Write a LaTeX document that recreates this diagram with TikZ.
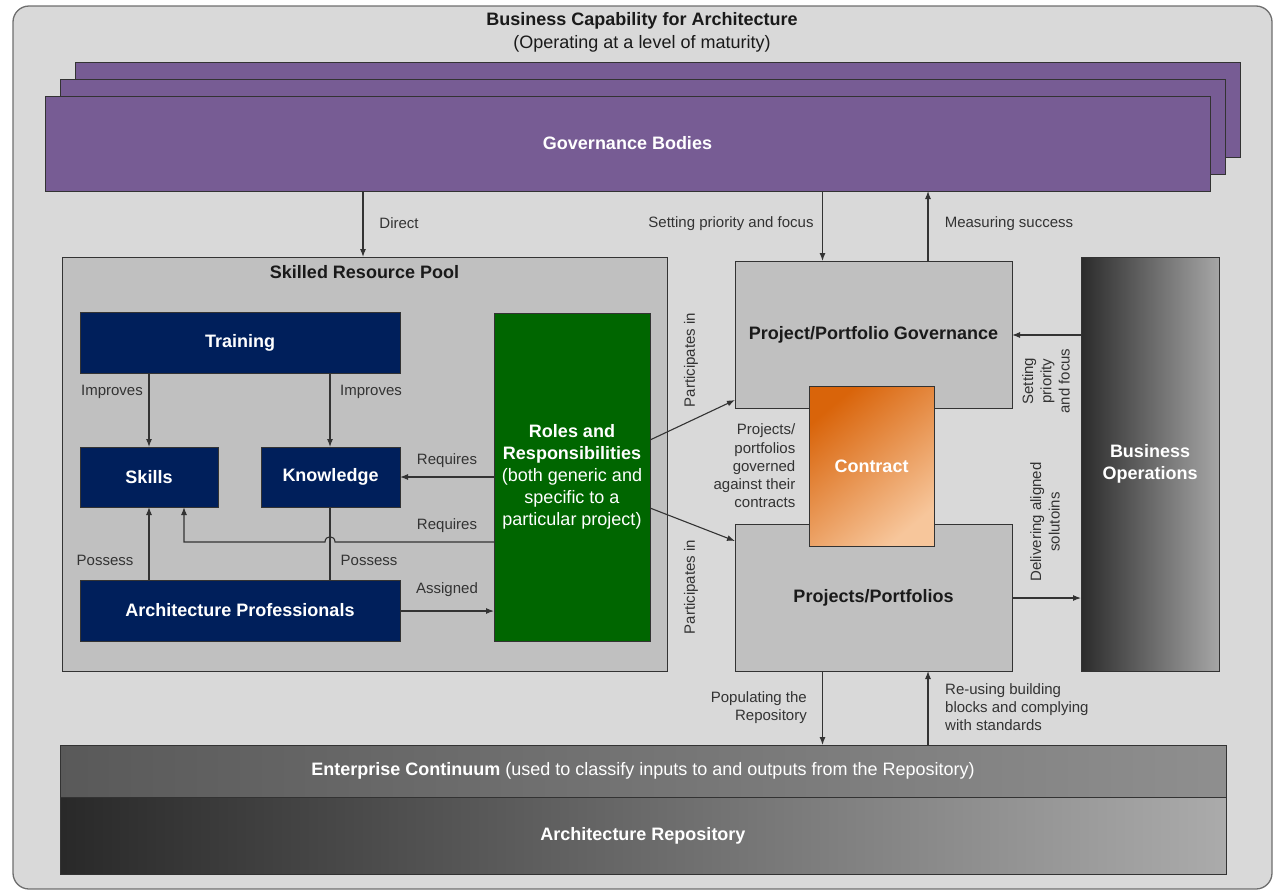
\documentclass[tikz,border=0pt]{standalone}
\usepackage{fontspec}
\setmainfont{Liberation Sans}
\usetikzlibrary{arrows.meta,calc}
\definecolor{outerbg}{HTML}{D9D9D9}
\definecolor{outerln}{HTML}{6E6E6E}
\definecolor{poolc}{HTML}{C0C0C0}
\definecolor{linec}{HTML}{333333}
\definecolor{labc}{HTML}{333333}
\definecolor{headc}{HTML}{1A1A1A}
\definecolor{purplec}{HTML}{775C94}
\definecolor{navyc}{HTML}{001F5B}
\definecolor{greenc}{HTML}{006600}
\definecolor{orgA}{HTML}{D9640A}
\definecolor{orgB}{HTML}{DD7019}
\definecolor{orgC}{HTML}{F7C69B}
\newcommand\hdfont{\fontsize{18}{22}\selectfont\bfseries}
\newcommand\rgfont{\fontsize{18}{22}\selectfont}
\newcommand\lbfont{\fontsize{15}{18.3}\selectfont}
\begin{document}
\begin{tikzpicture}[x=1pt,y=-1pt,
  box/.style={draw=linec, line width=1pt, inner sep=0pt, outer sep=0pt},
  purplebox/.style={box, fill=purplec, text=white, font=\hdfont},
  navybox/.style={box, fill=navyc, text=white, font=\hdfont},
  greybox/.style={box, fill=poolc, text=headc, font=\hdfont},
  arr/.style={draw=linec, line width=1.1pt, -{Latex[length=8pt,width=6pt]}},
  ln/.style={draw=linec, line width=1.1pt},
  lbl/.style={text=labc, font=\lbfont, inner sep=0pt, align=center},
  ttl/.style={text=headc, inner sep=0pt}]
\useasboundingbox (0,0) rectangle (1276,892);
% outer frame
\draw[fill=outerbg, draw=outerln, line width=1.3pt, rounded corners=16pt] (13,6) rectangle (1272,889);
\node[ttl, font=\hdfont] (title) at (642,21) {Business Capability for Architecture};
\node[ttl, font=\rgfont] (subtitle) at (642,44) {(Operating at a level of maturity)};
% governance bodies stack
\node[purplebox, minimum width=1165pt, minimum height=95pt] (gb3) at (657.5,109.5) {};
\node[purplebox, minimum width=1165pt, minimum height=95pt] (gb2) at (642.5,126.5) {};
\node[purplebox, minimum width=1165pt, minimum height=95pt] (gb1) at (627.5,143.5) {Governance Bodies};
% skilled resource pool
\node[box, fill=poolc, minimum width=605pt, minimum height=414pt] (pool) at (364.5,464) {};
\node[ttl, font=\hdfont] (pooltitle) at (364.5,272) {Skilled Resource Pool};
\node[navybox, minimum width=320pt, minimum height=61pt] (train) at (240,342.5) {Training};
\node[navybox, minimum width=138pt, minimum height=60pt] (skills) at (149,477) {Skills};
\node[navybox, minimum width=139pt, minimum height=60pt] (know) at (330.5,477) {Knowledge};
\node[navybox, minimum width=320pt, minimum height=61pt] (prof) at (240,610.5) {Architecture Professionals};
\node[box, fill=greenc, text=white, minimum width=156pt, minimum height=328pt, align=center, font=\rgfont] (roles) at (572,477)
  {\bfseries Roles and\\\bfseries Responsibilities\\(both generic and\\specific to a\\particular project)};
% project boxes
\node[greybox, minimum width=277pt, minimum height=147pt] (ppg) at (873.5,334.5) {Project/Portfolio Governance};
\node[greybox, minimum width=277pt, minimum height=147pt] (pp) at (873.5,597.5) {Projects/Portfolios};
\node[box, top color=orgA, middle color=orgB, bottom color=orgC, shading angle=40, text=white, font=\hdfont,
  minimum width=125pt, minimum height=160pt] (contract) at (871.5,466) {Contract};
% business operations
\node[box, left color=black!83, right color=black!35, text=white, font=\hdfont, align=center,
  minimum width=138pt, minimum height=414pt] (bo) at (1150,464) {Business\\Operations};
% bottom bars
\node[box, left color=black!65, right color=black!44, text=white, font=\rgfont,
  minimum width=1166pt, minimum height=52pt] (ec) at (643,771)
  {{\bfseries Enterprise Continuum} (used to classify inputs to and outputs from the Repository)};
\node[box, left color=black!84, right color=black!33, text=white, font=\hdfont,
  minimum width=1166pt, minimum height=77pt] (ar) at (643,835.5) {Architecture Repository};
% helper coordinates
\coordinate (xdir) at (363,0);
\coordinate (xset) at (822.5,0);
\coordinate (xmeas) at (928,0);
\coordinate (xl) at (149,0);
\coordinate (xr) at (330,0);
\coordinate (xs2) at (184,0);
\coordinate (yrq1) at (0,477);
\coordinate (yrq2) at (0,542);
\coordinate (yas) at (0,611);
\coordinate (ybo1) at (0,335);
\coordinate (ybo2) at (0,598);
\coordinate (jr) at (335,542);
\coordinate (jl) at (325,542);
\coordinate (jturn) at (184,542);
\coordinate (r1) at (0,440);
\coordinate (r2) at (0,508);
\coordinate (p1) at (0,400);
\coordinate (p2) at (0,541);
% connectors
\draw[arr] (gb1.south -| xdir) -- (pool.north -| xdir);
\draw[arr] (gb1.south -| xset) -- (ppg.north -| xset);
\draw[arr] (ppg.north -| xmeas) -- (gb1.south -| xmeas);
\draw[arr] (train.south -| xl) -- (skills.north -| xl);
\draw[arr] (train.south -| xr) -- (know.north -| xr);
\draw[arr] (roles.west |- yrq1) -- (know.east |- yrq1);
\draw[arr] (roles.west |- yrq2) -- (jr) .. controls (335,535) and (325,535) .. (jl) -- (jturn) -- (skills.south -| xs2);
\draw[arr] (prof.north -| xl) -- (skills.south -| xl);
\draw[ln] (know.south -| xr) -- (prof.north -| xr);
\draw[arr] (prof.east |- yas) -- (roles.west |- yas);
\draw[arr] (roles.east |- r1) -- (ppg.west |- p1);
\draw[arr] (roles.east |- r2) -- (pp.west |- p2);
\draw[arr] (bo.west |- ybo1) -- (ppg.east |- ybo1);
\draw[arr] (pp.east |- ybo2) -- (bo.west |- ybo2);
\draw[arr] (pp.south -| xset) -- (ec.north -| xset);
\draw[arr] (ec.north -| xmeas) -- (pp.south -| xmeas);
% labels
\node[lbl] (ldirect) at (399,223.5) {Direct};
\node[lbl] (lset) at (731,223.5) {Setting priority and focus};
\node[lbl] (lmeas) at (1009,223.5) {Measuring success};
\node[lbl] (limp1) at (112,392) {Improves};
\node[lbl] (limp2) at (371,392) {Improves};
\node[lbl] (lreq1) at (447,461) {Requires};
\node[lbl] (lreq2) at (447,526) {Requires};
\node[lbl] (lpos1) at (105,560) {Possess};
\node[lbl] (lpos2) at (369,560) {Possess};
\node[lbl] (lass) at (447,590) {Assigned};
\node[lbl, rotate=90] (lpart1) at (691,360) {Participates in};
\node[lbl, rotate=90] (lpart2) at (691,587) {Participates in};
\node[lbl, align=right, anchor=east] (lgov) at (795.5,466) {Projects/\\portfolios\\governed\\against their\\contracts};
\node[lbl, rotate=90] (lbo1) at (1046,381) {Setting\\priority\\and focus};
\node[lbl, rotate=90] (lbo2) at (1045,522) {Delivering aligned\\solutoins};
\node[lbl, align=right, anchor=east] (lpop) at (807,707.5) {Populating the\\Repository};
\node[lbl, align=left, anchor=west] (lreuse) at (945,707) {Re-using building\\blocks and complying\\with standards};
\end{tikzpicture}
\end{document}
